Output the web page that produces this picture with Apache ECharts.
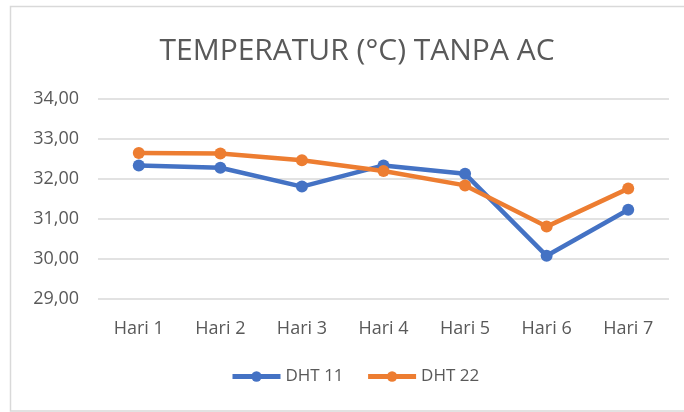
<!DOCTYPE html>
<html><head><meta charset="utf-8">
<script src="https://cdn.jsdelivr.net/npm/echarts@6/dist/echarts.min.js"></script>
<style>html,body{margin:0;padding:0;background:#fff}#c{width:684px;height:412px}</style>
</head><body><div id="c"></div>
<script>
var categories = ['Hari 1','Hari 2','Hari 3','Hari 4','Hari 5','Hari 6','Hari 7'];
var dht11 = [32.34, 32.28, 31.81, 32.34, 32.13, 30.08, 31.23];
var dht22 = [32.65, 32.64, 32.47, 32.20, 31.84, 30.81, 31.76];
var seriesNames = ['DHT 11','DHT 22'];
var titleText = 'TEMPERATUR (°C) TANPA AC';

var chart = echarts.init(document.getElementById('c'), null, {renderer:'canvas'});
var font = '"Open Sans", "Liberation Sans", sans-serif';
function mk(name, data, color){
  return {name:name, type:'line', data:data, symbol:'circle', symbolSize:12,
    lineStyle:{width:4.5, color:color}, itemStyle:{color:color}, emphasis:{disabled:true}, animation:false};
}
chart.setOption({
  animation:false,
  graphic:[{type:'rect', shape:{x:10.5,y:6.5,width:700,height:404.5}, style:{fill:'none', stroke:'#d9d9d9', lineWidth:1.5}, silent:true}],
  title:{text:titleText, left:352, textAlign:'center', top:31, textStyle:{fontFamily:font, fontWeight:'normal', fontSize:30, color:'#595959'}},
  grid:{left:98, right:15, top:99, bottom:113, containLabel:false},
  legend:{data:seriesNames, bottom:22, left:225, itemWidth:48, itemHeight:13, itemGap:22,
    lineStyle:{width:5},
    textStyle:{fontFamily:font, fontSize:17, color:'#595959'}},
  xAxis:{type:'category', data:categories, boundaryGap:true,
    axisLine:{show:false}, axisTick:{show:false},
    axisLabel:{fontFamily:font, fontSize:18, color:'#595959', margin:21}},
  yAxis:{type:'value', min:29, max:34, interval:1,
    axisLine:{show:false}, axisTick:{show:false},
    splitLine:{lineStyle:{color:'#d9d9d9', width:1.5}},
    axisLabel:{fontFamily:font, fontSize:18, color:'#595959', margin:19,
      formatter:function(v){return v.toFixed(2).replace('.',',');}}},
  series:[mk(seriesNames[0], dht11, '#4472C4'), mk(seriesNames[1], dht22, '#ED7D31')]
});
</script></body></html>
